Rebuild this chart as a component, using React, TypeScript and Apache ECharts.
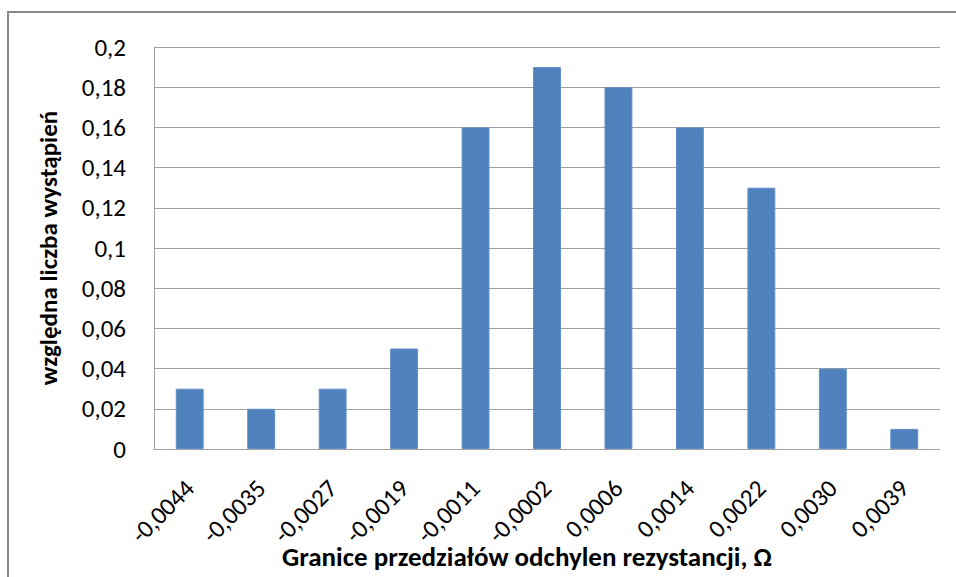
import React, { useEffect, useRef } from "react";
import * as echarts from "echarts";

const categories = ["-0,0044", "-0,0035", "-0,0027", "-0,0019", "-0,0011", "-0,0002", "0,0006", "0,0014", "0,0022", "0,0030", "0,0039"];
const values = [0.03, 0.02, 0.03, 0.05, 0.16, 0.19, 0.18, 0.16, 0.13, 0.04, 0.01];
const yTitle = "względna liczba wystąpień";
const xTitle = "Granice przedziałów odchylen rezystancji, Ω";

const FONT = "Carlito, 'Open Sans', sans-serif";

export default function App() {
  const ref = useRef<HTMLDivElement>(null);
  useEffect(() => {
    if (!ref.current) return;
    const chart = echarts.init(ref.current, undefined, { renderer: "svg" });
    chart.setOption({
      animation: false,
      backgroundColor: "#ffffff",
      textStyle: { fontFamily: FONT },
      grid: { left: 154, right: 16, top: 47, bottom: 128, containLabel: false, outerBoundsMode: "none" },
      graphic: [
        {
          type: "rect",
          shape: { x: 8, y: 12, width: 1200, height: 1200 },
          style: { fill: "none", stroke: "#888888", lineWidth: 2 },
          silent: true,
        },
        {
          type: "text",
          x: 527,
          y: 556,
          silent: true,
          style: {
            text: xTitle,
            fontFamily: FONT,
            fontSize: 27,
            fontWeight: "bold",
            fill: "#000",
            align: "center",
            verticalAlign: "middle",
          },
        },
      ],
      xAxis: {
        type: "category",
        data: categories,
        axisLine: { show: true, lineStyle: { color: "#a0a0a0", width: 1 } },
        axisTick: { show: false },
        axisLabel: { rotate: 45, margin: 35, fontSize: 25, color: "#000", fontFamily: FONT, interval: 0 },
      },
      yAxis: {
        type: "value",
        min: 0,
        max: 0.2,
        interval: 0.02,
        name: yTitle,
        nameLocation: "middle",
        nameGap: 93,
        nameTextStyle: { fontFamily: FONT, fontSize: 25, fontWeight: "bold", color: "#000" },
        axisLine: { show: true, lineStyle: { color: "#a0a0a0", width: 1 } },
        axisTick: { show: false },
        splitLine: { show: true, lineStyle: { color: "#a0a0a0", width: 1 } },
        axisLabel: {
          margin: 28,
          fontSize: 25,
          color: "#000",
          fontFamily: FONT,
          formatter: (v: number) => String(parseFloat(v.toFixed(4))).replace(".", ","),
        },
      },
      series: [
        {
          type: "bar",
          data: values,
          barCategoryGap: "61%",
          itemStyle: { color: "#4f81bd", borderColor: "#5f8fc9", borderWidth: 1 },
        },
      ],
    });
    return () => chart.dispose();
  }, []);
  return <div ref={ref} style={{ position: "absolute", left: 0, top: 0, width: 956, height: 577 }} />;
}
